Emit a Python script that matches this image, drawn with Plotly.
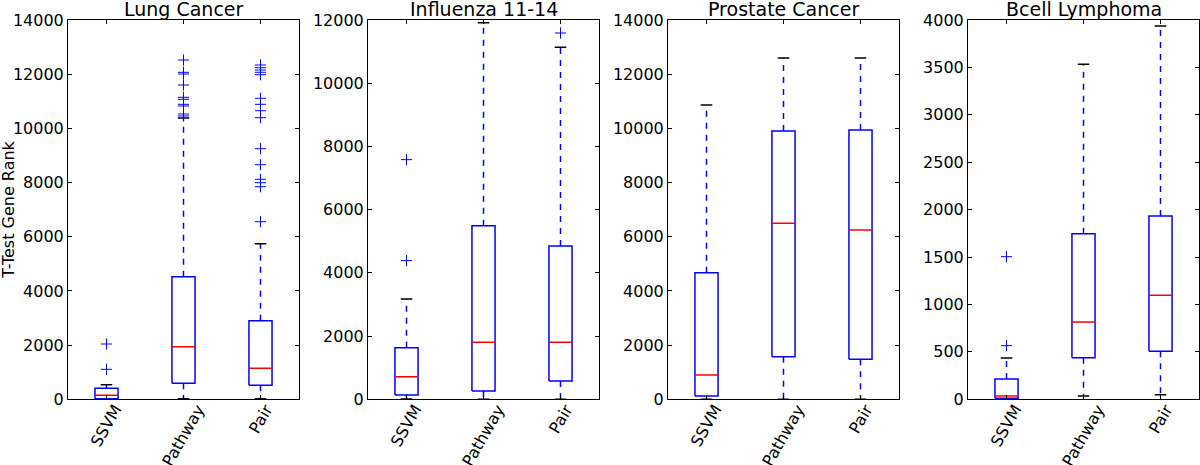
import plotly.graph_objects as go

# ---------------- data ----------------
methods = ["SSVM", "Pathway", "Pair"]
datasets = ["Lung Cancer", "Influenza 11-14", "Prostate Cancer", "Bcell Lymphoma"]
y_max = [14000, 12000, 14000, 4000]
y_dtick = [2000, 2000, 2000, 500]

lung_q1 = [22, 590, 517]
lung_median = [148, 1942, 1144]
lung_q3 = [406, 4527, 2901]
lung_low = [0, 20, 20]
lung_high = [539, 10383, 5745]
lung_outliers = [
    [1107, 2041],
    [10457, 10530, 10826, 10888, 11073, 11147, 11601, 12007, 12070, 12524],
    [6555, 7847, 7995, 8120, 8659, 9250, 10394, 10652, 10888, 11110,
     11981, 12070, 12155, 12239, 12339],
]

flu_q1 = [137, 264, 580]
flu_median = [717, 1803, 1803]
flu_q3 = [1634, 5494, 4851]
flu_low = [10, 0, 0]
flu_high = [3174, 11916, 11136]
flu_outliers = [[4387, 7582], [], [11589]]

prostate_q1 = [123, 1575, 1476]
prostate_median = [898, 6496, 6250]
prostate_q3 = [4675, 9903, 9940]
prostate_low = [5, 0, 0]
prostate_high = [10863, 12597, 12597]
prostate_outliers = [[], [], []]

bcell_q1 = [10, 439, 506]
bcell_median = [35, 815, 1097]
bcell_q3 = [214, 1747, 1933]
bcell_low = [5, 35, 49]
bcell_high = [436, 3533, 3937]
bcell_outliers = [[566, 1504], [], []]

panels = [
    (lung_q1, lung_median, lung_q3, lung_low, lung_high, lung_outliers),
    (flu_q1, flu_median, flu_q3, flu_low, flu_high, flu_outliers),
    (prostate_q1, prostate_median, prostate_q3, prostate_low, prostate_high, prostate_outliers),
    (bcell_q1, bcell_median, bcell_q3, bcell_low, bcell_high, bcell_outliers),
]

# ---------------- styling ----------------
W, H = 1200, 465
BLUE = "#0000ff"
RED = "#ff0000"
FONT = "DejaVu Sans"
TICK_SIZE = 16
box_half = 0.15
cap_half = 0.075
panel_left = [68, 368, 668, 968]
panel_width = 231
plot_top = 20
plot_bottom = 399.3

fig = go.Figure()
layout = dict(
    width=W, height=H,
    margin=dict(l=0, r=0, t=0, b=0, autoexpand=False),
    paper_bgcolor="white", plot_bgcolor="white",
    showlegend=False,
    font=dict(family=FONT, size=TICK_SIZE, color="black"),
    annotations=[],
)

ydom = [1 - plot_bottom / H, 1 - plot_top / H]

for i, (q1, med, q3, lo, hi, outs) in enumerate(panels):
    xa = "x" if i == 0 else f"x{i+1}"
    ya = "y" if i == 0 else f"y{i+1}"
    pos = [1, 2, 3]

    bx, by, mx, my, wx, wy, cx, cy, ox, oy = [], [], [], [], [], [], [], [], [], []
    for j, p in enumerate(pos):
        bx += [p - box_half, p + box_half, p + box_half, p - box_half, p - box_half, None]
        by += [q1[j], q1[j], q3[j], q3[j], q1[j], None]
        mx += [p - box_half, p + box_half, None]
        my += [med[j], med[j], None]
        wx += [p, p, None, p, p, None]
        wy += [q3[j], hi[j], None, q1[j], lo[j], None]
        cx += [p - cap_half, p + cap_half, None, p - cap_half, p + cap_half, None]
        cy += [hi[j], hi[j], None, lo[j], lo[j], None]
        for v in outs[j]:
            ox.append(p)
            oy.append(v)

    fig.add_trace(go.Scatter(x=wx, y=wy, mode="lines", xaxis=xa, yaxis=ya,
                             line=dict(color=BLUE, width=1.5, dash="6px,6px"),
                             hoverinfo="skip"))
    fig.add_trace(go.Scatter(x=cx, y=cy, mode="lines", xaxis=xa, yaxis=ya,
                             line=dict(color="black", width=1.5), hoverinfo="skip"))
    fig.add_trace(go.Scatter(x=bx, y=by, mode="lines", xaxis=xa, yaxis=ya,
                             line=dict(color=BLUE, width=1.5), hoverinfo="skip"))
    fig.add_trace(go.Scatter(x=mx, y=my, mode="lines", xaxis=xa, yaxis=ya,
                             line=dict(color=RED, width=1.5), hoverinfo="skip"))
    fig.add_trace(go.Scatter(x=ox, y=oy, mode="markers", xaxis=xa, yaxis=ya,
                             marker=dict(symbol="cross-thin-open", size=8, color=BLUE,
                                         line=dict(color=BLUE, width=1)),
                             hoverinfo="skip"))

    xkey = "xaxis" if i == 0 else f"xaxis{i+1}"
    ykey = "yaxis" if i == 0 else f"yaxis{i+1}"
    xd = [panel_left[i] / W, (panel_left[i] + panel_width) / W]
    layout[xkey] = dict(
        domain=xd, anchor=ya, range=[0.5, 3.5],
        tickvals=pos, showticklabels=False,
        showline=True, linecolor="black", linewidth=1, mirror="ticks",
        ticks="inside", ticklen=4, tickcolor="black",
        showgrid=False, zeroline=False, fixedrange=True, automargin=False,
    )
    layout[ykey] = dict(
        domain=ydom, anchor=xa, range=[0, y_max[i]],
        tick0=0, dtick=y_dtick[i], tickformat="d",
        tickfont=dict(family=FONT, size=TICK_SIZE, color="black"),
        showline=True, linecolor="black", linewidth=1, mirror="ticks",
        ticks="inside", ticklen=4, tickcolor="black",
        showgrid=False, zeroline=False, fixedrange=True, automargin=False,
    )
    # rotated category labels, centred under each tick (matplotlib style)
    for j, p in enumerate(pos):
        layout["annotations"].append(dict(
            text=methods[j], xref=xa, yref="paper",
            x=p, y=ydom[0], xanchor="center", yanchor="top",
            yshift=-1, textangle=-60, showarrow=False, borderpad=0,
            font=dict(family=FONT, size=TICK_SIZE, color="black"),
        ))
    layout["annotations"].append(dict(
        text=datasets[i], xref="paper", yref="paper",
        x=(xd[0] + xd[1]) / 2, y=ydom[1], xanchor="center", yanchor="bottom",
        yshift=-2, showarrow=False, font=dict(family=FONT, size=19, color="black"),
    ))

layout["annotations"].append(dict(
    text="T-Test Gene Rank", xref="paper", yref="paper",
    x=9 / W, y=(ydom[0] + ydom[1]) / 2, xanchor="center", yanchor="middle",
    textangle=-90, showarrow=False, font=dict(family=FONT, size=16, color="black"),
))

fig.update_layout(**layout)
fig.write_html(
    "out.html",
    config={"displayModeBar": False},
    post_script="document.body.style.margin='0';document.body.style.overflow='hidden';",
)
